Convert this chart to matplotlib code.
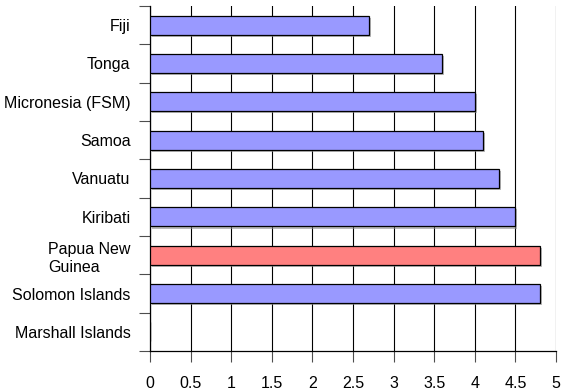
import numpy as np
import matplotlib
matplotlib.use("Agg")
import matplotlib.pyplot as plt
import matplotlib.patheffects as pe
from matplotlib.ticker import MultipleLocator, FixedLocator, FormatStrFormatter

# pacific island countries, top to bottom
countries = ["Fiji", "Tonga", "Micronesia (FSM)", "Samoa", "Vanuatu",
             "Kiribati", "Papua New\nGuinea", "Solomon Islands", "Marshall Islands"]
values = [2.7, 3.6, 4.0, 4.1, 4.3, 4.5, 4.8, 4.8, 0.0]
highlight = "Papua New\nGuinea"

plt.rcParams['font.family'] = ['Liberation Sans', 'DejaVu Sans']
plt.rcParams['font.size'] = 11.5

fig = plt.figure(figsize=(5.66, 3.92), dpi=100)
ax = fig.add_axes([150/566, 1 - 351/392, 406/566, 345/392])

y = np.arange(len(countries))
colors = ['#FF8080' if c == highlight else '#9999FF' for c in countries]
bars = ax.barh(y, values, height=0.5, color=colors, edgecolor='black',
               linewidth=0.9, zorder=3)
for b in bars:
    b.set_path_effects([pe.SimplePatchShadow(offset=(1.5, -1.5), shadow_rgbFace='0.55', alpha=0.6),
                        pe.Normal()])

ax.set_xlim(0, 5)
ax.set_ylim(len(countries) - 0.5, -0.5)

ax.xaxis.set_major_locator(MultipleLocator(0.5))
ax.xaxis.set_major_formatter(FormatStrFormatter('%g'))
ax.grid(axis='x', color='black', linewidth=0.8, zorder=0)
ax.tick_params(axis='x', length=8, width=0.8, color='0.3', pad=10)

ax.set_yticks(y)
ax.set_yticklabels(countries, ha='right', multialignment='left', linespacing=1.3)
ax.yaxis.set_minor_locator(FixedLocator(np.arange(-0.5, len(countries), 1)))
ax.tick_params(axis='y', which='major', length=0, pad=14)
ax.tick_params(axis='y', which='minor', length=8, width=0.8, color='0.3')

for s in ['top', 'right']:
    ax.spines[s].set_visible(False)
for s in ['left', 'bottom']:
    ax.spines[s].set_linewidth(0.9)

fig.savefig('out.png', dpi=100)
